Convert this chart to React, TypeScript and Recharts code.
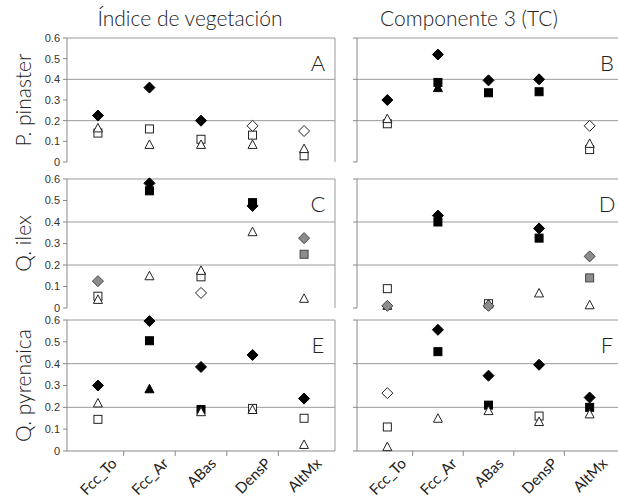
import React from 'react';
import { ScatterChart, Scatter, XAxis, YAxis, ReferenceLine } from 'recharts';

const categories = ['Fcc_To', 'Fcc_Ar', 'ABas', 'DensP', 'AltMx'];
const yTicks = [0, 0.1, 0.2, 0.3, 0.4, 0.5, 0.6];
const rowLabels = ['P. pinaster', 'Q. ilex', 'Q. pyrenaica'];
const colTitles = ['Índice de vegetación', 'Componente 3 (TC)'];
const panelLetters = ['A', 'B', 'C', 'D', 'E', 'F'];

type V = (number | null)[];

// A - P. pinaster, indice de vegetacion
const aBlackDiamond: V = [0.225, 0.36, 0.2, null, null];
const aOpenDiamond: V = [null, null, null, 0.175, 0.15];
const aOpenSquare: V = [0.14, 0.16, 0.11, 0.13, 0.03];
const aOpenTriangle: V = [0.165, 0.085, 0.085, 0.085, 0.065];

// B - P. pinaster, componente 3
const bBlackDiamond: V = [0.3, 0.52, 0.395, 0.4, null];
const bOpenDiamond: V = [null, null, null, null, 0.175];
const bBlackSquare: V = [null, 0.385, 0.335, 0.34, null];
const bOpenSquare: V = [0.185, null, null, null, 0.06];
const bBlackTriangle: V = [null, 0.36, null, null, null];
const bOpenTriangle: V = [0.21, null, null, null, 0.09];

// C - Q. ilex, indice de vegetacion
const cBlackDiamond: V = [null, 0.58, null, 0.475, null];
const cGrayDiamond: V = [0.125, null, null, null, 0.325];
const cOpenDiamond: V = [null, null, 0.07, null, null];
const cBlackSquare: V = [null, 0.545, null, 0.49, null];
const cGraySquare: V = [null, null, null, null, 0.25];
const cOpenSquare: V = [0.055, null, 0.145, null, null];
const cOpenTriangle: V = [0.04, 0.15, 0.175, 0.355, 0.045];

// D - Q. ilex, componente 3
const dBlackDiamond: V = [null, 0.43, null, 0.37, null];
const dGrayDiamond: V = [0.01, null, 0.01, null, 0.24];
const dBlackSquare: V = [null, 0.4, null, 0.325, null];
const dGraySquare: V = [null, null, null, null, 0.14];
const dOpenSquare: V = [0.09, null, 0.02, null, null];
const dOpenTriangle: V = [0.012, null, 0.02, 0.07, 0.015];

// E - Q. pyrenaica, indice de vegetacion
const eBlackDiamond: V = [0.3, 0.595, 0.385, 0.44, 0.24];
const eBlackSquare: V = [null, 0.505, 0.19, null, null];
const eOpenSquare: V = [0.145, null, null, 0.195, 0.15];
const eBlackTriangle: V = [null, 0.285, null, null, null];
const eOpenTriangle: V = [0.22, null, 0.18, 0.19, 0.03];

// F - Q. pyrenaica, componente 3
const fBlackDiamond: V = [null, 0.555, 0.345, 0.395, 0.245];
const fOpenDiamond: V = [0.265, null, null, null, null];
const fBlackSquare: V = [null, 0.455, 0.21, null, 0.2];
const fOpenSquare: V = [0.11, null, null, 0.16, null];
const fOpenTriangle: V = [0.02, 0.15, 0.185, 0.135, 0.17];

type Kind = 'kD' | 'wD' | 'gD' | 'kS' | 'wS' | 'gS' | 'kT' | 'wT';

const panelSeries: [Kind, V][][] = [
  [['wS', aOpenSquare], ['wT', aOpenTriangle], ['kD', aBlackDiamond], ['wD', aOpenDiamond]],
  [['kS', bBlackSquare], ['wS', bOpenSquare], ['kT', bBlackTriangle], ['wT', bOpenTriangle], ['kD', bBlackDiamond], ['wD', bOpenDiamond]],
  [['kS', cBlackSquare], ['gS', cGraySquare], ['wS', cOpenSquare], ['wT', cOpenTriangle], ['kD', cBlackDiamond], ['gD', cGrayDiamond], ['wD', cOpenDiamond]],
  [['kS', dBlackSquare], ['gS', dGraySquare], ['wS', dOpenSquare], ['wT', dOpenTriangle], ['kD', dBlackDiamond], ['gD', dGrayDiamond]],
  [['kS', eBlackSquare], ['wS', eOpenSquare], ['kT', eBlackTriangle], ['wT', eOpenTriangle], ['kD', eBlackDiamond]],
  [['kS', fBlackSquare], ['wS', fOpenSquare], ['wT', fOpenTriangle], ['kD', fBlackDiamond], ['wD', fOpenDiamond]],
];

const toPoints = (vals: V) =>
  vals.map((v, i) => (v == null ? null : { x: i, y: v })).filter(Boolean) as { x: number; y: number }[];

const fills: Record<string, [string, string]> = {
  k: ['#000', '#000'],
  w: ['#fff', '#222'],
  g: ['#8c8c8c', '#444'],
};

const marker = (kind: Kind) => (p: any) => {
  const { cx, cy } = p;
  if (cx == null || cy == null) return <g />;
  const [fill, stroke] = fills[kind[0]];
  const shape = kind[1];
  if (shape === 'D') {
    const r = 5.5;
    return <polygon points={`${cx},${cy - r} ${cx + r},${cy} ${cx},${cy + r} ${cx - r},${cy}`} fill={fill} stroke={stroke} strokeWidth={1} />;
  }
  if (shape === 'S') {
    const s = 4;
    return <rect x={cx - s} y={cy - s} width={2 * s} height={2 * s} fill={fill} stroke={stroke} strokeWidth={1} />;
  }
  const h = 4.5;
  return <polygon points={`${cx},${cy - h} ${cx + h},${cy + h - 0.5} ${cx - h},${cy + h - 0.5}`} fill={fill} stroke={stroke} strokeWidth={1} />;
};

const FONT = 'Lato, sans-serif';
let measureCtx: CanvasRenderingContext2D | null = null;
function textWidth(s: string) {
  if (!measureCtx) measureCtx = document.createElement('canvas').getContext('2d');
  if (!measureCtx) return s.length * 8;
  measureCtx.font = '15px Lato';
  return measureCtx.measureText(s).width;
}

const XTick = (props: any) => {
  const { x, payload, axisY, unit } = props;
  const i = payload.value as number;
  const label = categories[i];
  const w = textWidth(label);
  const cy = axisY + 5 + (w + 12) * 0.354;
  return (
    <g>
      {i < 4 && <line x1={x + unit / 2} x2={x + unit / 2} y1={axisY} y2={axisY + 5} stroke="#888" />}
      <text x={x} y={cy} textAnchor="middle" dominantBaseline="central" transform={`rotate(-45, ${x}, ${cy})`}
        fontFamily={FONT} fontSize={15} fill="#222">{label}</text>
    </g>
  );
};

const colLeft = [67, 357];
const colWidth = [268, 263];
const rowTop = [38, 179, 320];
const rowHeight = [124, 129, 131];

function Panel({ idx }: { idx: number }) {
  const col = idx % 2;
  const row = Math.floor(idx / 2);
  const plotW = colWidth[col];
  const plotH = rowHeight[row];
  const mL = 60, mT = 10, mR = 10;
  const showX = row === 2;
  const xH = showX ? 50 : 0;
  const mB = showX ? 0 : 10;
  const width = mL + plotW + mR;
  const height = mT + plotH + xH + mB;
  const unit = plotW / 5.2;
  return (
    <div style={{ position: 'absolute', left: colLeft[col] - mL, top: rowTop[row] - mT }}>
      <ScatterChart width={width} height={height} margin={{ top: mT, right: mR, left: 0, bottom: mB }}>
        <XAxis type="number" dataKey="x" domain={[-0.6, 4.6]} ticks={[0, 1, 2, 3, 4]}
          height={xH} axisLine={{ stroke: '#888' }} tickLine={false}
          tick={showX ? (p: any) => <XTick {...p} axisY={mT + plotH} unit={unit} /> : () => <g />} />
        <YAxis type="number" dataKey="y" domain={[0, 0.6]} ticks={yTicks} width={mL}
          axisLine={{ stroke: '#888' }} tickLine={{ stroke: '#888' }} tickSize={4} tickMargin={3}
          tickFormatter={(v: number) => (v === 0 ? '0' : v.toFixed(1))}
          tick={col === 0 ? { fontSize: 11, fill: '#333', fontFamily: 'Liberation Sans, Arial, sans-serif' } : () => <g />} />
        <ReferenceLine y={0.2} stroke="#9a9a9a" />
        <ReferenceLine y={0.4} stroke="#9a9a9a" />
        <ReferenceLine y={0.6} stroke="#9a9a9a" />
        {col === 0 && <ReferenceLine x={4.6} stroke="#9a9a9a" />}
        {panelSeries[idx].map(([kind, vals], k) => (
          <Scatter key={k} data={toPoints(vals)} shape={marker(kind)} isAnimationActive={false} />
        ))}
      </ScatterChart>
    </div>
  );
}

export default function App() {
  return (
    <div style={{ position: 'absolute', left: 0, top: 0, width: 618, height: 498, overflow: 'hidden', background: '#fff' }}>
      {panelLetters.map((_, i) => <Panel key={i} idx={i} />)}
      <svg width={618} height={498} style={{ position: 'absolute', left: 0, top: 0, pointerEvents: 'none' }}>
        <g fontFamily={FONT} fontWeight={300} fill="#222">
          <text x={190} y={17} fontSize={21} textAnchor="middle" dominantBaseline="central">{colTitles[0]}</text>
          <text x={469} y={17} fontSize={21} textAnchor="middle" dominantBaseline="central">{colTitles[1]}</text>
          {rowLabels.map((l, r) => {
            const cy = rowTop[r] + rowHeight[r] / 2;
            return (
              <text key={l} x={22} y={cy} fontSize={21} textAnchor="middle" dominantBaseline="central"
                transform={`rotate(-90, 22, ${cy})`}>{l}</text>
            );
          })}
          {panelLetters.map((l, i) => {
            const col = i % 2;
            const row = Math.floor(i / 2);
            return (
              <text key={l} x={col === 0 ? 318 : 607} y={rowTop[row] + 24} fontSize={22} textAnchor="middle"
                dominantBaseline="central">{l}</text>
            );
          })}
        </g>
      </svg>
    </div>
  );
}
